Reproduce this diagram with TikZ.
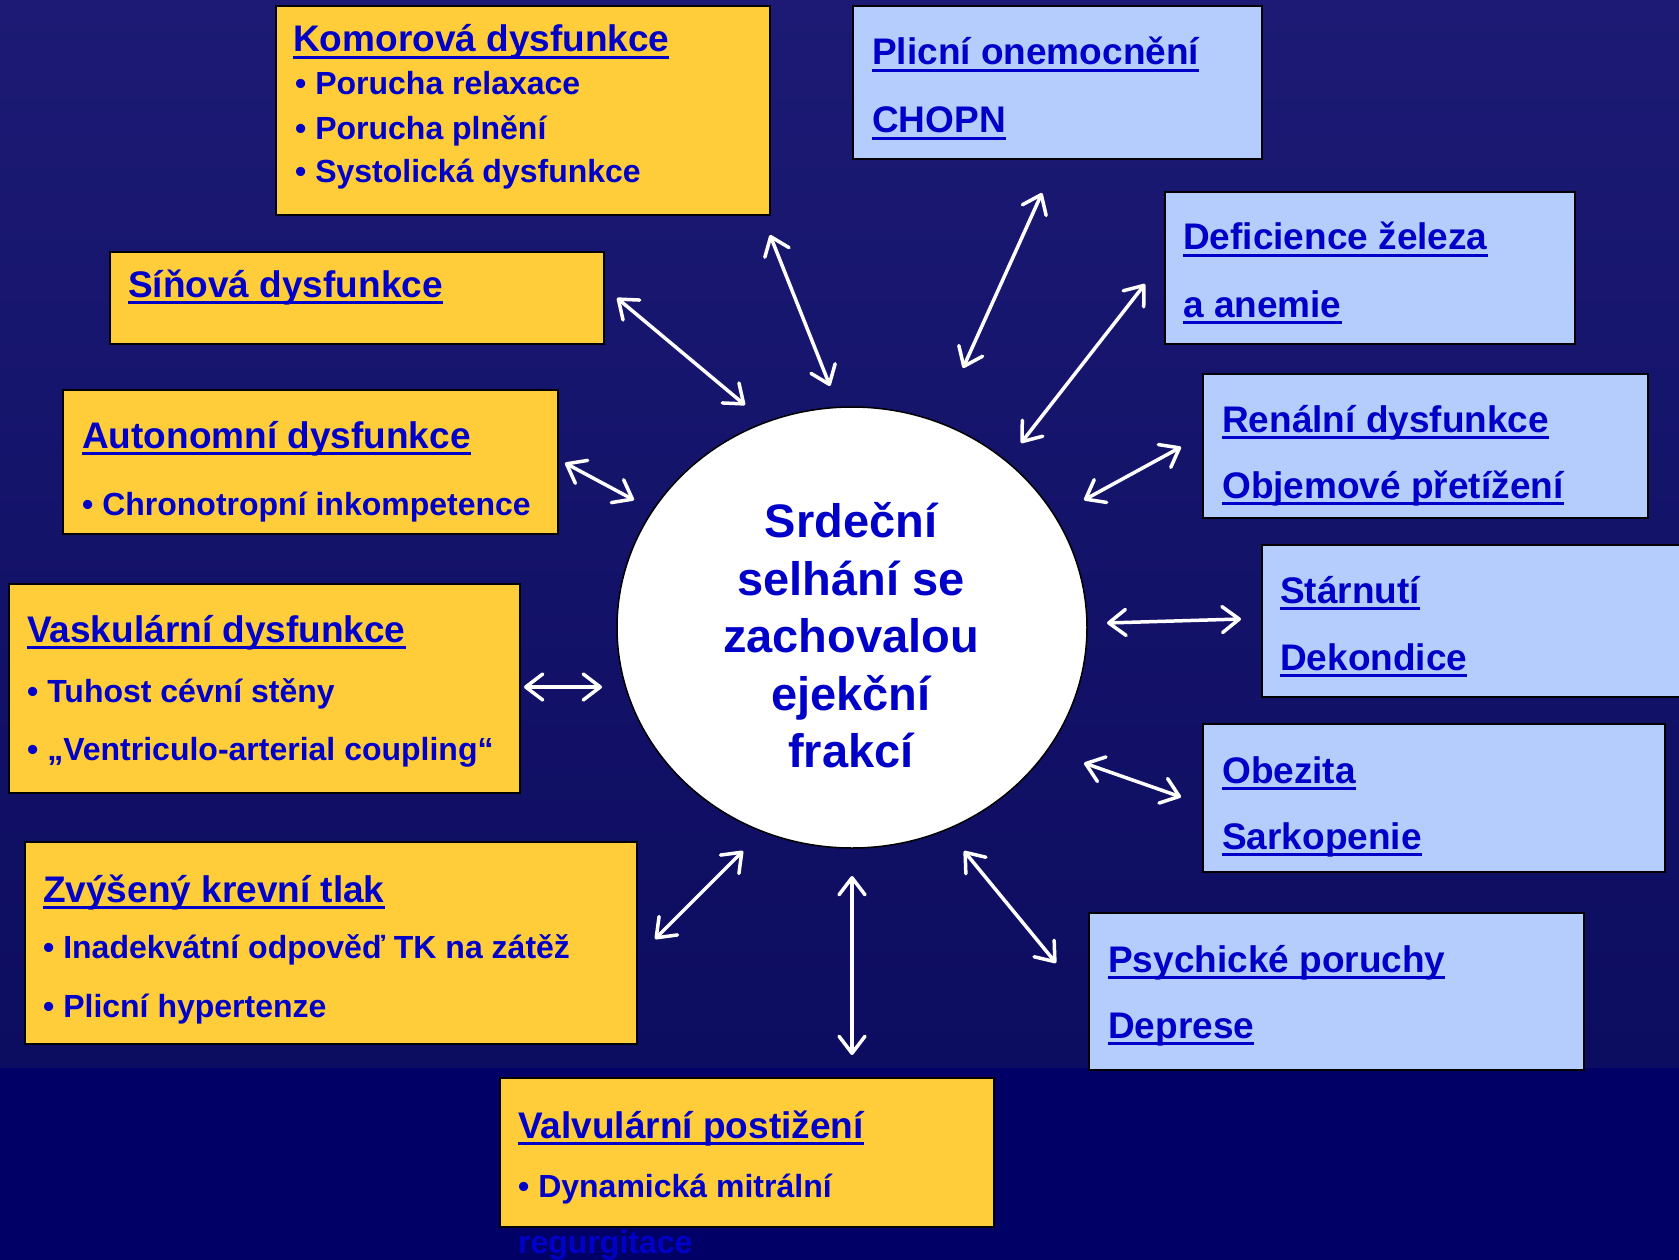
\documentclass[tikz,border=0pt]{standalone}
\usepackage{fontspec}
\setmainfont{Liberation Sans}
\usetikzlibrary{arrows.meta,shapes.geometric}
\definecolor{bgtop}{RGB}{28,26,116}
\definecolor{bgbot}{RGB}{12,12,96}
\definecolor{bgband}{RGB}{0,0,102}
\definecolor{ybox}{RGB}{255,204,58}
\definecolor{bbox}{RGB}{181,205,252}
\definecolor{txtblue}{RGB}{0,0,200}
\newcommand\ulin[1]{\setbox0=\hbox{#1}\rlap{\rule[-0.2em]{\wd0}{0.1em}}\box0}
\begin{document}
\begin{tikzpicture}[x=1pt,y=-1pt,
  yellowbox/.style={draw=black,line width=2pt,fill=ybox,inner sep=0,anchor=north west},
  bluebox/.style={draw=black,line width=2pt,fill=bbox,inner sep=0,anchor=north west},
  ttl/.style={anchor=base west,inner sep=0,text=txtblue,font=\fontsize{37}{44}\selectfont\bfseries},
  bul/.style={anchor=base west,inner sep=0,text=txtblue,font=\fontsize{32}{38}\selectfont\bfseries},
  ctext/.style={anchor=base,inner sep=0,text=txtblue,font=\fontsize{47}{56}\selectfont\bfseries},
  arr/.style={draw=white,line width=3.5pt,{Straight Barb[length=17pt,width=26pt,round]}-{Straight Barb[length=17pt,width=26pt,round]}}]
\useasboundingbox (0,0) rectangle (1679,1260);
\clip (0,0) rectangle (1679,1260);
% background
\shade[top color=bgtop,bottom color=bgbot] (0,0) rectangle (1679,1068);
\fill[bgband] (0,1068) rectangle (1679,1260);

% yellow boxes
\node[yellowbox,minimum width=494pt,minimum height=209pt] (komor) at (275,5) {};
\node[ttl] (komorT) at (293,52) {\ulin{Komorová dysfunkce}};
\node[bul] (komor1) at (295,95) {• Porucha relaxace};
\node[bul] (komor2) at (295,140) {• Porucha plnění};
\node[bul] (komor3) at (295,183) {• Systolická dysfunkce};

\node[yellowbox,minimum width=494pt,minimum height=92pt] (sin) at (109,251) {};
\node[ttl] (sinT) at (128,297) {\ulin{Síňová dysfunkce}};

\node[yellowbox,minimum width=495pt,minimum height=144pt] (auto) at (62,389) {};
\node[ttl] (autoT) at (82,448) {\ulin{Autonomní dysfunkce}};
\node[bul] (auto1) at (82,515) {• Chronotropní inkompetence};

\node[yellowbox,minimum width=511pt,minimum height=209pt] (vask) at (8,583) {};
\node[ttl] (vaskT) at (27,642) {\ulin{Vaskulární dysfunkce}};
\node[bul] (vask1) at (27,702) {• Tuhost cévní stěny};
\node[bul] (vask2) at (27,760) {• „Ventriculo-arterial coupling“};

\node[yellowbox,minimum width=612pt,minimum height=202pt] (tlak) at (24,841) {};
\node[ttl] (tlakT) at (43,902) {\ulin{Zvýšený krevní tlak}};
\node[bul] (tlak1) at (43,958) {• Inadekvátní odpověď TK na zátěž};
\node[bul] (tlak2) at (43,1017) {• Plicní hypertenze};

\node[yellowbox,minimum width=494pt,minimum height=149pt] (valv) at (499,1077) {};
\node[ttl] (valvT) at (518,1138) {\ulin{Valvulární postižení}};
\node[bul] (valv1) at (518,1197) {• Dynamická mitrální};
\node[bul] (valv2) at (518,1253) {regurgitace};

% blue boxes
\node[bluebox,minimum width=409pt,minimum height=153pt] (plic) at (852,5) {};
\node[ttl] (plicT) at (872,65) {\ulin{Plicní onemocnění}};
\node[ttl] (plic2) at (872,133) {\ulin{CHOPN}};

\node[bluebox,minimum width=410pt,minimum height=152pt] (def) at (1164,191) {};
\node[ttl] (defT) at (1183,250) {\ulin{Deficience železa}};
\node[ttl] (def2) at (1183,317) {\ulin{a anemie}};

\node[bluebox,minimum width=445pt,minimum height=144pt] (ren) at (1202,373) {};
\node[ttl] (renT) at (1222,432) {\ulin{Renální dysfunkce}};
\node[ttl] (ren2) at (1222,498) {\ulin{Objemové přetížení}};

\node[bluebox,minimum width=440pt,minimum height=152pt] (star) at (1261,544) {};
\node[ttl] (starT) at (1280,603) {\ulin{Stárnutí}};
\node[ttl] (star2) at (1280,670) {\ulin{Dekondice}};

\node[bluebox,minimum width=462pt,minimum height=148pt] (obez) at (1202,723) {};
\node[ttl] (obezT) at (1222,783) {\ulin{Obezita}};
\node[ttl] (obez2) at (1222,849) {\ulin{Sarkopenie}};

\node[bluebox,minimum width=495pt,minimum height=157pt] (psych) at (1088,912) {};
\node[ttl] (psychT) at (1108,972) {\ulin{Psychické poruchy}};
\node[ttl] (psych2) at (1108,1038) {\ulin{Deprese}};

% central ellipse
\node[ellipse,draw=black,line width=1.5pt,fill=white,minimum width=470pt,minimum height=441pt,inner sep=0] (hf) at (852,627.5) {};
\node[ctext] (hf1) at (851,537) {Srdeční};
\node[ctext] (hf2) at (851,595) {selhání se};
\node[ctext] (hf3) at (851,652) {zachovalou};
\node[ctext] (hf4) at (851,710) {ejekční};
\node[ctext] (hf5) at (851,767) {frakcí};

% arrow end points
\coordinate (a1) at (770,235);  \coordinate (b1) at (830,386);
\coordinate (a2) at (617,298);  \coordinate (b2) at (745,405);
\coordinate (a3) at (565,463);  \coordinate (b3) at (634,500);
\coordinate (a4) at (524,687);  \coordinate (b4) at (602,687);
\coordinate (a5) at (655,939);  \coordinate (b5) at (743,851);
\coordinate (a6) at (852,876);  \coordinate (b6) at (852,1055);
\coordinate (a7) at (964,851);  \coordinate (b7) at (1056,963);
\coordinate (a8) at (1084,763); \coordinate (b8) at (1181,797);
\coordinate (a9) at (1107,623); \coordinate (b9) at (1241,619);
\coordinate (a10) at (1084,500); \coordinate (b10) at (1181,447);
\coordinate (a11) at (1021,443); \coordinate (b11) at (1145,284);
\coordinate (a12) at (963,368); \coordinate (b12) at (1042,193);
\foreach \i in {1,...,12} {\draw[arr] (a\i) -- (b\i);}
\end{tikzpicture}
\end{document}
